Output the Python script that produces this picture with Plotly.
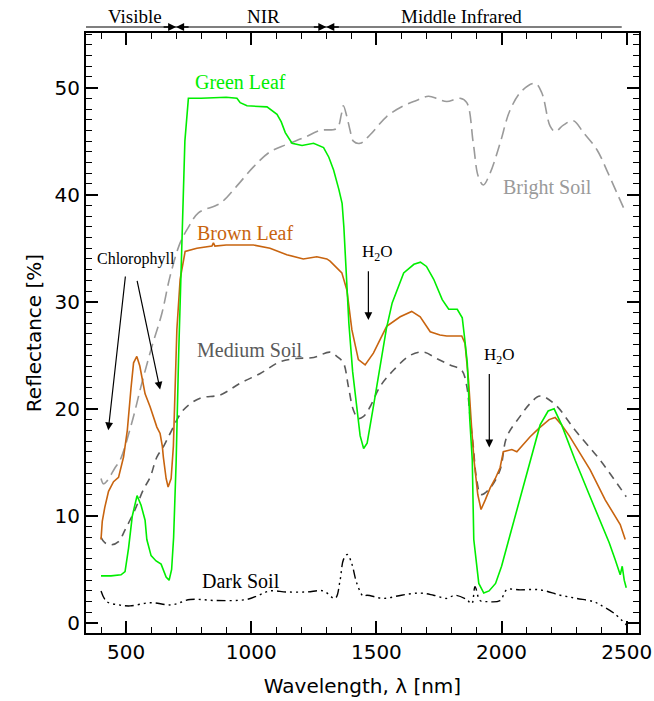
import plotly.graph_objects as go

# ---------------- data (wavelength nm, reflectance %) ----------------
green_wl = [400, 440, 480, 496, 510, 525, 544, 560, 576, 583, 600, 620, 640, 660, 672, 682, 690, 700, 710, 723, 735, 749,
            800, 900, 943, 956, 983, 1063, 1103, 1120, 1136, 1163, 1203, 1249, 1289, 1310, 1329, 1350, 1363, 1370, 1378,
            1390, 1405, 1416, 1435, 1449, 1463, 1490, 1516, 1540, 1563, 1609, 1650, 1676, 1700, 1729, 1763, 1789, 1823,
            1843, 1853, 1863, 1873, 1883, 1889, 1909, 1929, 1950, 1976, 2000, 2029, 2074, 2114, 2154, 2186, 2210, 2240,
            2294, 2350, 2394, 2430, 2454, 2474, 2482, 2490, 2498]
green_r = [4.4, 4.4, 4.5, 4.8, 7.0, 10.0, 11.9, 11.0, 9.6, 7.8, 6.3, 5.8, 5.5, 4.3, 4.0, 5.0, 8.0, 15.0, 25.0, 35.0, 45.0, 49.0,
           49.0, 49.1, 49.0, 48.6, 48.3, 48.2, 47.5, 46.8, 45.8, 44.8, 44.6, 44.8, 44.4, 43.5, 42.3, 40.5, 39.2, 37.0, 33.0,
           28.0, 23.5, 21.1, 17.5, 16.3, 16.8, 20.5, 24.3, 27.5, 29.9, 32.7, 33.5, 33.7, 33.3, 32.1, 30.2, 29.3, 29.3,
           28.5, 26.5, 24.3, 19.0, 15.2, 7.8, 3.7, 2.8, 3.0, 3.7, 5.3, 7.8, 11.7, 15.2, 18.5, 19.8, 20.0, 18.5,
           15.2, 12.0, 9.6, 7.5, 5.9, 4.5, 5.3, 4.0, 3.3]

brown_wl = [400, 405, 415, 430, 450, 470, 490, 505, 520, 530, 543, 555, 563, 576, 596, 610, 623, 636, 645, 649, 660, 668,
            680, 689, 696, 703, 716, 736, 783, 843, 849, 855, 900, 1009, 1075, 1142, 1208, 1262, 1302, 1315, 1362, 1382,
            1402, 1428, 1455, 1488, 1541, 1595, 1641, 1675, 1715, 1754, 1781, 1841, 1854, 1868, 1881, 1890, 1905, 1918,
            1935, 1954, 1975, 1994, 2007, 2041, 2061, 2090, 2114, 2150, 2190, 2214, 2240, 2270, 2294, 2354, 2414, 2474, 2494]
brown_r = [7.8, 9.5, 10.8, 12.3, 13.2, 13.6, 15.5, 18.0, 22.0, 24.3, 24.9, 24.0, 23.0, 21.4, 20.2, 19.3, 18.3, 17.7, 16.5, 15.5, 13.5, 12.7,
           13.5, 16.5, 22.0, 27.4, 32.1, 34.7, 35.0, 35.2, 35.5, 35.2, 35.3, 35.3, 35.0, 34.4, 34.0, 34.2, 34.0, 33.8, 32.7, 31.1,
           27.4, 24.6, 24.1, 25.2, 27.7, 28.6, 29.1, 28.6, 27.2, 26.9, 26.8, 26.8, 26.1, 22.7, 18.0, 15.2, 12.0, 10.6,
           11.5, 12.6, 13.5, 14.5, 16.0, 16.2, 16.0, 16.8, 17.4, 18.2, 19.0, 19.2, 18.5, 17.5, 16.6, 14.3, 11.5, 9.2, 7.8]

bright_wl = [400, 410, 425, 456, 476, 523, 563, 603, 643, 676, 716, 750, 789, 876, 942, 1009, 1075, 1142, 1208, 1275, 1342,
             1360, 1368, 1382, 1395, 1408, 1435, 1475, 1541, 1608, 1660, 1708, 1750, 1781, 1834, 1861, 1887, 1907, 1927,
             1954, 1994, 2034, 2081, 2134, 2161, 2194, 2214, 2247, 2287, 2327, 2381, 2420, 2460, 2487]
bright_r = [13.5, 13.0, 13.3, 14.5, 15.2, 18.7, 22.4, 25.8, 28.9, 32.4, 35.5, 37.0, 38.3, 39.2, 40.8, 42.6, 44.0, 44.7, 45.3, 46.0, 46.2,
            47.5, 48.3, 47.3, 46.0, 45.0, 44.8, 45.6, 47.3, 48.3, 48.8, 49.2, 48.9, 48.7, 49.0, 48.6, 44.8, 41.7, 40.9,
            42.0, 44.8, 47.9, 49.7, 50.4, 49.5, 46.4, 45.9, 46.5, 46.9, 45.8, 44.2, 42.3, 40.2, 38.8]

medium_wl = [400, 415, 440, 470, 496, 536, 570, 596, 623, 650, 676, 729, 796, 876, 956, 1036, 1115, 1180, 1250, 1315, 1342,
             1368, 1388, 1408, 1428, 1449, 1475, 1515, 1568, 1635, 1688, 1741, 1794, 1841, 1861, 1874, 1887, 1900, 1918,
             1954, 1994, 2021, 2074, 2114, 2154, 2214, 2294, 2394, 2498]
medium_r = [8.0, 7.5, 7.3, 7.6, 8.7, 10.6, 12.5, 13.6, 15.5, 16.5, 17.7, 19.9, 21.0, 21.3, 22.4, 23.3, 24.4, 24.7, 24.8, 25.3, 24.9,
            24.3, 22.1, 19.9, 19.1, 19.3, 20.2, 22.1, 23.6, 25.0, 25.3, 24.7, 24.1, 23.6, 22.1, 19.3, 16.5, 13.5, 12.0,
            12.6, 14.3, 17.4, 19.3, 20.5, 21.2, 20.4, 18.0, 15.2, 11.8]

dark_wl = [400, 423, 470, 516, 596, 683, 756, 862, 982, 1030, 1075, 1142, 1222, 1288, 1335, 1355, 1368, 1384, 1401, 1422,
           1448, 1462, 1528, 1600, 1675, 1728, 1781, 1814, 1860, 1881, 1894, 1914, 1941, 1994, 2021, 2074, 2154, 2234,
           2300, 2367, 2394, 2450, 2500]
dark_r = [3.0, 2.0, 1.7, 1.6, 1.9, 1.7, 2.2, 2.1, 2.2, 2.6, 3.0, 2.9, 2.9, 3.0, 2.3, 4.0, 5.9, 6.4, 5.6, 3.7,
          2.5, 2.6, 2.3, 2.6, 2.8, 2.6, 2.3, 2.6, 2.2, 1.8, 3.4, 2.1, 2.0, 2.1, 3.1, 3.1, 3.1, 2.6,
          2.3, 2.0, 1.7, 0.9, -0.2]

region_names = ["Visible", "NIR", "Middle Infrared"]
region_centers = [535, 1050, 1840]
region_bounds = [700, 1300]
region_extent = [340, 2480]

x_ticks = [500, 1000, 1500, 2000, 2500]
y_ticks = [0, 10, 20, 30, 40, 50]

GREEN = "#00ee00"
BROWN = "#c8640f"
BRIGHT = "#9a9a9a"
MEDIUM = "#5a5a5a"

fig = go.Figure()
fig.add_trace(go.Scatter(x=bright_wl, y=bright_r, mode="lines", line=dict(color=BRIGHT, width=1.6, dash="12px,6px"), line_shape="spline"))
fig.add_trace(go.Scatter(x=medium_wl, y=medium_r, mode="lines", line=dict(color=MEDIUM, width=1.6, dash="8px,6px"), line_shape="spline"))
fig.add_trace(go.Scatter(x=dark_wl, y=dark_r, mode="lines",
                         line=dict(color="black", width=1.4, dash="9px,4px,2px,4px,2px,4px,2px,4px"), line_shape="spline"))
fig.add_trace(go.Scatter(x=brown_wl, y=brown_r, mode="lines", line=dict(color=BROWN, width=1.6)))
fig.add_trace(go.Scatter(x=green_wl, y=green_r, mode="lines", line=dict(color=GREEN, width=1.6)))

serif = "Liberation Serif, Times New Roman, serif"
ann = []

def label(x, y, text, color, size=20):
    ann.append(dict(x=x, y=y, xref="x", yref="y", text=text, showarrow=False,
                    font=dict(family=serif, size=size, color=color), xanchor="center", yanchor="middle"))

label(959, 50.5, "Green Leaf", GREEN)
label(975, 36.4, "Brown Leaf", BROWN)
label(2182, 40.7, "Bright Soil", BRIGHT)
label(995, 25.5, "Medium Soil", MEDIUM)
label(959, 3.9, "Dark Soil", "black")
label(540, 34.0, "Chlorophyll", "black", 16)
label(1503, 34.6, "H<sub>2</sub>O", "black", 17)
label(1990, 24.9, "H<sub>2</sub>O", "black", 17)

def arrow(x0, y0, x1, y1):
    ann.append(dict(x=x1, y=y1, ax=x0, ay=y0, xref="x", yref="y", axref="x", ayref="y", text="",
                    showarrow=True, arrowhead=2, arrowsize=1.3, arrowwidth=1.2, arrowcolor="black"))

arrow(498, 32.5, 429, 18.0)
arrow(543, 32.1, 636, 21.8)
arrow(1468, 33.0, 1468, 28.3)
arrow(1951, 23.4, 1951, 16.4)

# top region bar
for name, cx in zip(region_names, region_centers):
    ann.append(dict(x=cx, y=1.028, xref="x", yref="paper", text=name, showarrow=False,
                    font=dict(family=serif, size=19, color="black"), xanchor="center", yanchor="middle"))
for b in region_bounds:
    for side in (-1, 1):
        ann.append(dict(x=b, y=1.01, xref="x", yref="paper", ax=side * 14, ay=0, text="",
                        showarrow=True, arrowhead=2, arrowsize=1.0, arrowwidth=1.6, arrowcolor="black", standoff=0))

fig.add_shape(type="line", xref="x", yref="paper", x0=region_extent[0], x1=region_extent[1], y0=1.01, y1=1.01,
              line=dict(color="black", width=1.2))

axis_common = dict(showline=True, linecolor="black", linewidth=2, mirror="ticks", ticks="inside",
                   ticklen=12, tickwidth=1.6, tickcolor="black", showgrid=False, zeroline=False, automargin=False,
                   tickfont=dict(family="DejaVu Sans", size=20, color="black"))

fig.update_layout(
    width=654, height=701,
    margin=dict(l=86, r=15, t=33, b=68),
    paper_bgcolor="white", plot_bgcolor="white",
    showlegend=False,
    annotations=ann,
    xaxis=dict(range=[340, 2549], tickvals=x_ticks,
               minor=dict(dtick=100, ticklen=6, tickwidth=1.4, ticks="inside", tickcolor="black"),
               title=dict(text="Wavelength, λ [nm]", font=dict(family="DejaVu Sans", size=20, color="black"), standoff=16),
               **axis_common),
    yaxis=dict(range=[-0.93, 55.1], tickvals=y_ticks,
               minor=dict(dtick=1, ticklen=6, tickwidth=1.4, ticks="inside", tickcolor="black"),
               title=dict(text="Reflectance [%]", font=dict(family="DejaVu Sans", size=20, color="black"), standoff=8),
               **axis_common),
)

fig.write_html("out.html")
